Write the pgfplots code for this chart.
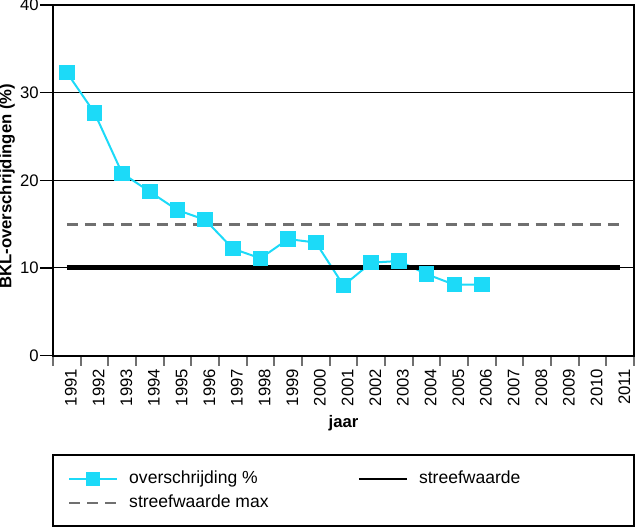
\documentclass[border=0pt]{standalone}
\usepackage{pgfplots}
\pgfplotsset{compat=1.18}
\usepackage{fontspec}
\setmainfont{Liberation Sans}
\definecolor{cyanm}{RGB}{28,218,248}
\definecolor{dgrey}{RGB}{112,112,112}
\begin{document}
\begin{tikzpicture}
\begin{axis}[
 scale only axis, width=348pt, height=210pt,
 xmin=1990.5, xmax=2011.5, ymin=0, ymax=40,
 ytick={0,10,20,30,40},
 ymajorgrids, grid style={black, line width=0.6pt},
 xtick={1991,...,2011},
 minor xtick={1990.5,1991.5,...,2011.5},
 /pgf/number format/assume math mode=true,
 /pgf/number format/1000 sep={},
 tick label style={font=\fontsize{10}{12}\selectfont},
 xticklabel style={rotate=90, anchor=east, inner sep=0pt, yshift=-2.5pt},
 yticklabel style={inner xsep=0.6pt},
 tick align=outside,
 major x tick style={draw=none},
 minor x tick style={dgrey, line width=1.2pt},
 minor tick length=6pt,
 y tick style={black, line width=0.8pt}, major tick length=7.8pt,
 axis line style={line width=1.2pt},
 xtick pos=bottom, ytick pos=left,
 xlabel={\textbf{jaar}}, ylabel={\textbf{BKL-overschrijdingen (\%)}},
 label style={font=\fontsize{10}{12}\selectfont},
 xlabel style={at={(axis description cs:0.5,-0.1914)}, anchor=center},
 ylabel style={at={(axis description cs:-0.0792,0.483)}, anchor=center},
 clip=false,
 legend columns=2,
 legend cell align=left,
 legend image code/.code={\draw[mark repeat=2,mark phase=2,#1] plot coordinates {(0pt,0pt) (14.4pt,0pt) (28.8pt,0pt)};},
 legend image post style={line width=1.2pt, mark size=3.6pt},
 legend style={draw=none, fill=none, inner sep=0pt, anchor=west,
   at={(axis description cs:0.0255,-0.3857)},
   column sep=0pt, row sep=4.9pt,
   nodes={inner sep=0pt, text height=7.5pt, text depth=2pt},
   /tikz/every odd column/.append style={column sep=6.6pt},
   font=\fontsize{10.5}{12}\selectfont},
]
\addplot[cyanm, line width=1.2pt, mark=square*, mark size=4pt] coordinates {
(1991,32.3) (1992,27.7) (1993,20.8) (1994,18.7) (1995,16.6) (1996,15.5)
(1997,12.2) (1998,11.1) (1999,13.3) (2000,12.9) (2001,8.0) (2002,10.6)
(2003,10.8) (2004,9.3) (2005,8.1) (2006,8.1)};
\addlegendentry{\makebox[137pt][l]{overschrijding \%}}
\addplot[black, line width=3pt] coordinates {(1991,10) (2011,10)};
\addlegendentry{streefwaarde}
\addplot[dgrey, line width=1.8pt, dash pattern=on 6.6pt off 4.2pt] coordinates {(1991,15) (2011,15)};
\addlegendentry{streefwaarde max}
\draw[line width=1.2pt] (rel axis cs:0,-0.283) rectangle (rel axis cs:1,-0.486);
\coordinate (bbsw) at (rel axis cs:-0.0912,-0.4914);
\coordinate (bbne) at (rel axis cs:1.0034,1.0143);
\end{axis}
\pgfresetboundingbox
\useasboundingbox (bbsw) rectangle (bbne);
\end{tikzpicture}
\end{document}
